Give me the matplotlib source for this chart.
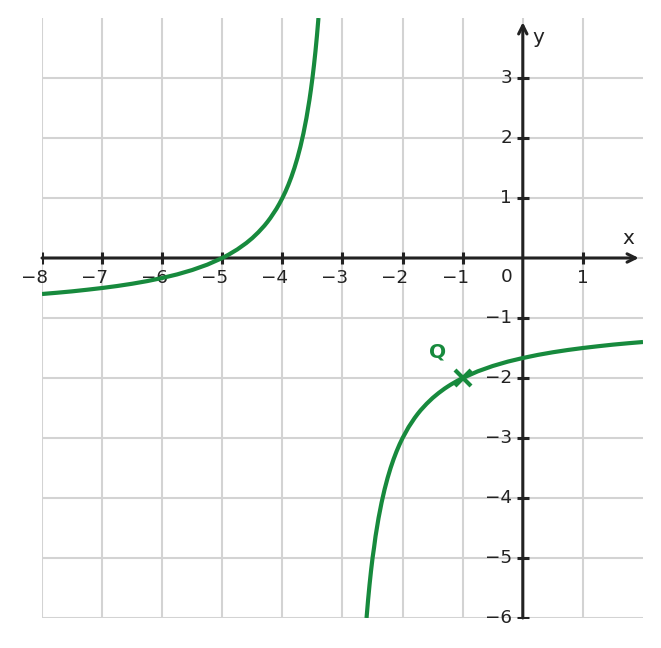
import numpy as np
import matplotlib
matplotlib.use("Agg")
import matplotlib.pyplot as plt

# points (left branch, right branch)
left_x = [-8, -7.75, -7.5, -7.25, -7, -6.75, -6.5, -6.25, -6, -5.75, -5.5, -5.25, -5,
          -4.9, -4.75, -4.6, -4.5, -4.4, -4.3, -4.25, -4.2, -4.1, -4.05, -4, -3.95, -3.9,
          -3.85, -3.8, -3.75, -3.7, -3.65, -3.6, -3.55, -3.525, -3.5, -3.475, -3.45,
          -3.425, -3.4]
left_y = [-0.6, -0.579, -0.556, -0.529, -0.5, -0.467, -0.429, -0.385, -0.333, -0.273,
          -0.2, -0.111, 0.0, 0.053, 0.143, 0.25, 0.333, 0.429, 0.538, 0.6, 0.667, 0.818,
          0.905, 1.0, 1.105, 1.222, 1.353, 1.5, 1.667, 1.857, 2.077, 2.333, 2.636, 2.81,
          3.0, 3.211, 3.444, 3.706, 4.0]
right_x = [-2.6, -2.575, -2.55, -2.525, -2.5, -2.475, -2.45, -2.4, -2.35, -2.3, -2.25,
           -2.2, -2.15, -2.1, -2.05, -2, -1.9, -1.8, -1.75, -1.7, -1.6, -1.5, -1.4, -1.3,
           -1.25, -1.2, -1.1, -1, -0.75, -0.5, -0.25, 0, 0.25, 0.5, 0.75, 1, 1.25, 1.5,
           1.75, 2]
right_y = [-6.0, -5.706, -5.444, -5.21, -5.0, -4.826, -4.636, -4.333, -4.077, -3.857,
           -3.667, -3.5, -3.353, -3.222, -3.105, -3.0, -2.818, -2.667, -2.6, -2.538,
           -2.429, -2.333, -2.25, -2.176, -2.143, -2.111, -2.053, -2.0, -1.889, -1.8,
           -1.727, -1.667, -1.615, -1.571, -1.533, -1.5, -1.471, -1.444, -1.421, -1.4]

point_q = (-1, -2)
x_ticks = [-8, -7, -6, -5, -4, -3, -2, -1, 1]
y_ticks = [-6, -5, -4, -3, -2, -1, 1, 2, 3]

GREEN = "#178a3d"
AXIS = "#222222"
GRID = "#d3d3d3"
FS = 13.2


def label(v):
    return "\u2212%d" % -v if v < 0 else str(v)


fig = plt.figure(figsize=(6.61, 6.48), dpi=100)
ax = fig.add_axes([42 / 661, 30 / 648, 601 / 661, 600 / 648])
ax.set_xlim(-8, 2)
ax.set_ylim(-6, 4)
ax.axis("off")

# grid
for gx in range(-8, 2):
    ax.plot([gx, gx], [-6, 4], color=GRID, lw=1.5, zorder=0)
for gy in range(-6, 4):
    ax.plot([-8, 2], [gy, gy], color=GRID, lw=1.5, zorder=0)

# axes with arrows
arrow = dict(arrowstyle="->,head_length=0.6,head_width=0.3", color=AXIS, lw=2.2,
             shrinkA=0, shrinkB=0)
ax.annotate("", xy=(1.93, 0), xytext=(-8, 0), arrowprops=arrow, zorder=2)
ax.annotate("", xy=(0, 3.93), xytext=(0, -6), arrowprops=arrow, zorder=2)

# tick marks and labels (digit centred under the tick)
ax.plot(x_ticks, [0] * len(x_ticks), linestyle="none", marker="|", ms=9, mew=2.2,
        color=AXIS, zorder=2)
ax.plot([0] * len(y_ticks), y_ticks, linestyle="none", marker="_", ms=9, mew=2.2,
        color=AXIS, zorder=2)
for t in x_ticks:
    ax.text(t + 0.1, -0.34, label(t), ha="right", va="center", fontsize=FS, color=AXIS)
ax.text(-0.27, -0.31, "0", ha="center", va="center", fontsize=FS, color=AXIS)
for t in y_ticks:
    ax.text(-0.18, t, label(t), ha="right", va="center", fontsize=FS, color=AXIS)
ax.text(1.75, 0.33, "x", ha="center", va="center", fontsize=14.5, color=AXIS)
ax.text(0.25, 3.68, "y", ha="center", va="center", fontsize=14.5, color=AXIS)

# curve
ax.plot(left_x, left_y, color=GREEN, lw=3, solid_capstyle="butt", zorder=3)
ax.plot(right_x, right_y, color=GREEN, lw=3, solid_capstyle="butt", zorder=3)

# point Q
ax.plot(*point_q, marker="x", ms=12, mew=3, color=GREEN, zorder=4)
ax.text(-1.42, -1.56, "Q", ha="center", va="center", fontsize=14.5, fontweight="bold",
        color=GREEN)

fig.savefig("out.png", dpi=100)
